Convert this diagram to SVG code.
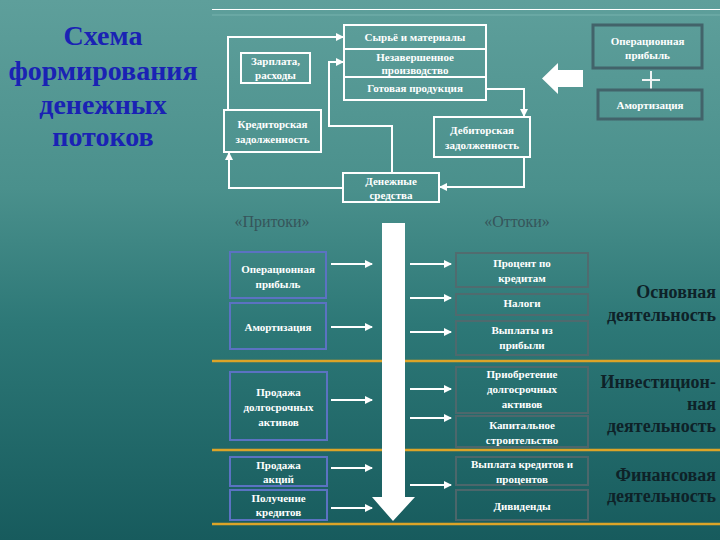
<svg xmlns="http://www.w3.org/2000/svg" width="720" height="540" viewBox="0 0 720 540">
<defs>
<linearGradient id="bg" x1="0" y1="0" x2="0" y2="1">
<stop offset="0" stop-color="#5e9f9b"/>
<stop offset="0.35" stop-color="#4a908c"/>
<stop offset="0.6" stop-color="#2d7877"/>
<stop offset="1" stop-color="#175b5d"/>
</linearGradient>
<marker id="ah" markerWidth="8" markerHeight="8" refX="7" refY="4" orient="auto" markerUnits="userSpaceOnUse">
<path d="M0,0 L8,4 L0,8 z" fill="#ffffff"/>
</marker>
<style>
.wb{fill:none;stroke:#ffffff;stroke-width:2}
.gb{fill:none;stroke:#42636a;stroke-width:3}
.bb{fill:none;stroke:#5b72c2;stroke-width:2}
.rb{fill:none;stroke:#55676c;stroke-width:2;stroke-opacity:0.85}
.t{font-family:"Liberation Serif","DejaVu Serif",serif;font-size:11px;fill:#ffffff;text-anchor:middle;font-weight:bold}
.c{fill:none;stroke:#ffffff;stroke-width:2}
.a{fill:none;stroke:#ffffff;stroke-width:2;marker-end:url(#ah)}
.title{font-family:"Liberation Serif","DejaVu Serif",serif;font-size:28px;font-weight:bold;fill:#1a22b4;text-anchor:middle}
.hd{font-family:"Liberation Serif","DejaVu Serif",serif;font-size:16px;fill:#36555a;text-anchor:middle}
.act{font-family:"Liberation Serif","DejaVu Serif",serif;font-size:18px;font-weight:bold;fill:#0e2228;text-anchor:end}
.gold{stroke:#dca428;stroke-width:2.5}
</style>
</defs>
<rect x="0" y="0" width="720" height="540" fill="url(#bg)"/>
<line x1="212" y1="9.5" x2="720" y2="9.5" stroke="#ffffff" stroke-width="1.2"/>
<line x1="212" y1="15" x2="720" y2="15" stroke="#7fb8b4" stroke-width="0.8"/>

<g id="title">
<text class="title" x="103" y="45">Схема</text>
<text class="title" x="103" y="80">формирования</text>
<text class="title" x="103" y="114">денежных</text>
<text class="title" x="103" y="146">потоков</text>
</g>

<g id="separators">
<line class="gold" x1="212" y1="361" x2="720" y2="361"/>
<line class="gold" x1="212" y1="450" x2="720" y2="450"/>
<line class="gold" x1="212" y1="524" x2="720" y2="524"/>
</g>

<g id="connectors">
<polyline class="a" points="228,110 228,37 343,37"/>
<polyline class="a" points="392,173 392,126 329,126 329,62 343,62"/>
<polyline class="a" points="343,188 229,188 229,153"/>
<polyline class="a" points="486,89 524,89 524,116"/>
<polyline class="a" points="524,157 524,187 440,187"/>
<line class="a" x1="331" y1="264" x2="372" y2="264"/>
<line class="a" x1="331" y1="327" x2="372" y2="327"/>
<line class="a" x1="331" y1="400" x2="372" y2="400"/>
<line class="a" x1="331" y1="468" x2="372" y2="468"/>
<line class="a" x1="331" y1="508" x2="372" y2="508"/>
<line class="a" x1="410" y1="264" x2="451" y2="264"/>
<line class="a" x1="410" y1="298" x2="451" y2="298"/>
<line class="a" x1="410" y1="332" x2="451" y2="332"/>
<line class="a" x1="410" y1="389" x2="451" y2="389"/>
<line class="a" x1="410" y1="418" x2="451" y2="418"/>
<line class="a" x1="410" y1="485" x2="451" y2="485"/>
</g>

<g id="big-arrows">
<path d="M583,70 L558,70 L558,63 L542,78.5 L558,94 L558,87 L583,87 z" fill="#ffffff"/>
<path d="M382,223 L405,223 L405,497 L415,497 L393,521 L372,497 L382,497 z" fill="#ffffff"/>
</g>

<g id="stock">
<rect class="wb" x="344" y="25" width="142" height="75"/>
<line class="c" x1="344" y1="49" x2="486" y2="49"/>
<line class="c" x1="344" y1="77" x2="486" y2="77"/>
<text class="t" x="415" y="41">Сырьё и материалы</text>
<text class="t" x="415" y="61">Незавершенное</text>
<text class="t" x="415" y="74">производство</text>
<text class="t" x="415" y="92">Готовая продукция</text>
</g>
<g id="salary">
<rect class="wb" x="241" y="53" width="69" height="30"/>
<text class="t" x="275.5" y="65">Зарплата,</text>
<text class="t" x="275.5" y="79">расходы</text>
</g>
<g id="creditors">
<rect class="wb" x="224" y="110" width="97" height="42"/>
<text class="t" x="272.5" y="128">Кредиторская</text>
<text class="t" x="272.5" y="143">задолженность</text>
</g>
<g id="debtors">
<rect class="wb" x="434" y="117" width="96" height="40"/>
<text class="t" x="482" y="134">Дебиторская</text>
<text class="t" x="482" y="149">задолженность</text>
</g>
<g id="cash">
<rect class="wb" x="343" y="173" width="96" height="29"/>
<text class="t" x="391" y="185">Денежные</text>
<text class="t" x="391" y="199">средства</text>
</g>
<g id="op-profit-top">
<rect class="gb" x="593" y="25" width="109" height="43"/>
<text class="t" x="647.5" y="45">Операционная</text>
<text class="t" x="647.5" y="59">прибыль</text>
</g>
<g id="plus">
<line x1="642" y1="80" x2="660" y2="80" stroke="#f0f4f4" stroke-width="2"/>
<line x1="651" y1="71" x2="651" y2="89" stroke="#f0f4f4" stroke-width="2"/>
</g>
<g id="amort-top">
<rect class="gb" x="598" y="90" width="104" height="29"/>
<text class="t" x="650" y="109">Амортизация</text>
</g>

<g id="headers">
<text class="hd" x="272" y="227">«Притоки»</text>
<text class="hd" x="517" y="227">«Оттоки»</text>
</g>

<g id="in-op-profit">
<rect class="bb" x="230" y="252" width="96" height="46"/>
<text class="t" x="278" y="273">Операционная</text>
<text class="t" x="278" y="288">прибыль</text>
</g>
<g id="in-amort">
<rect class="bb" x="230" y="303" width="96" height="46"/>
<text class="t" x="278" y="331">Амортизация</text>
</g>
<g id="in-sale-assets">
<rect class="bb" x="230" y="372" width="97" height="68"/>
<text class="t" x="278.5" y="396">Продажа</text>
<text class="t" x="278.5" y="411">долгосрочных</text>
<text class="t" x="278.5" y="426">активов</text>
</g>
<g id="in-sale-shares">
<rect class="bb" x="230" y="457" width="97" height="29"/>
<text class="t" x="278.5" y="469">Продажа</text>
<text class="t" x="278.5" y="483">акций</text>
</g>
<g id="in-loans">
<rect class="bb" x="230" y="490" width="97" height="30"/>
<text class="t" x="278.5" y="502">Получение</text>
<text class="t" x="278.5" y="516">кредитов</text>
</g>

<g id="out-interest">
<rect class="rb" x="456" y="253" width="132" height="34"/>
<text class="t" x="522" y="267">Процент по</text>
<text class="t" x="522" y="282">кредитам</text>
</g>
<g id="out-taxes">
<rect class="rb" x="456" y="294" width="132" height="21"/>
<text class="t" x="522" y="307">Налоги</text>
</g>
<g id="out-profit">
<rect class="rb" x="456" y="321" width="132" height="34"/>
<text class="t" x="522" y="334">Выплаты из</text>
<text class="t" x="522" y="349">прибыли</text>
</g>
<g id="out-assets">
<rect class="rb" x="456" y="367" width="132" height="46"/>
<text class="t" x="522" y="378">Приобретение</text>
<text class="t" x="522" y="393">долгосрочных</text>
<text class="t" x="522" y="408">активов</text>
</g>
<g id="out-construction">
<rect class="rb" x="456" y="416" width="132" height="31"/>
<text class="t" x="522" y="429">Капитальное</text>
<text class="t" x="522" y="444">строительство</text>
</g>
<g id="out-loans">
<rect class="rb" x="456" y="457" width="132" height="28"/>
<text class="t" x="522" y="468">Выплата кредитов и</text>
<text class="t" x="522" y="483">процентов</text>
</g>
<g id="out-dividends">
<rect class="rb" x="456" y="490" width="132" height="30"/>
<text class="t" x="522" y="510">Дивиденды</text>
</g>

<g id="activities">
<text class="act" x="716" y="298">Основная</text>
<text class="act" x="716" y="321">деятельность</text>
<text class="act" x="716" y="388">Инвестицион-</text>
<text class="act" x="716" y="410">ная</text>
<text class="act" x="716" y="432">деятельность</text>
<text class="act" x="716" y="481">Финансовая</text>
<text class="act" x="716" y="502">деятельность</text>
</g>
</svg>
